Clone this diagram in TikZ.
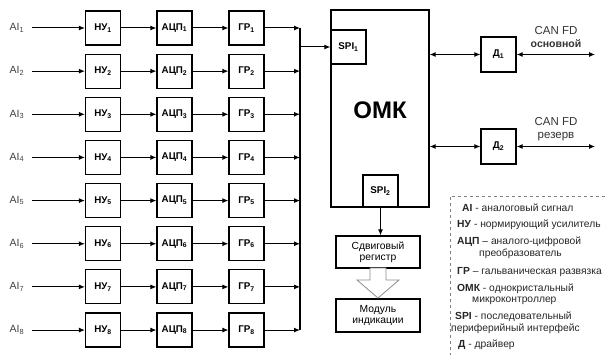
\documentclass[tikz,border=0pt]{standalone}
\usepackage{fontspec}
\setmainfont{Liberation Sans}
\usetikzlibrary{arrows.meta}
\newcommand{\lsub}[1]{\textsubscript{#1}}
\tikzset{
  blk/.style={draw, line width=1.2pt, minimum width=35pt, minimum height=34pt, inner sep=0pt, font=\bfseries\fontsize{9.8}{10}\selectfont},
  wide/.style={draw, line width=1.2pt, minimum width=84pt, minimum height=32pt, inner sep=0pt, align=center, font=\fontsize{10.3}{11.5}\selectfont},
  arr/.style={line width=1pt, -{Latex[length=6pt,width=5pt]}},
  darr/.style={line width=1pt, {Latex[length=6pt,width=5pt]}-{Latex[length=6pt,width=5pt]}},
  ailab/.style={font=\fontsize{10.5}{11}\selectfont, text=black!75},
  leg/.style={anchor=west, inner sep=0pt, font=\fontsize{10.3}{11}\selectfont, text=black!85},
  canlab/.style={font=\fontsize{11.5}{12}\selectfont, text=black!80}
}
\begin{document}
\begin{tikzpicture}[x=1pt,y=-1pt]
\useasboundingbox (0,0) rectangle (605,355);
\foreach \i in {1,...,8}{
  \pgfmathsetmacro{\yy}{28+43.15*(\i-1)}
  \node[ailab] (ai\i) at (17,\yy) {AI\lsub{\i}};
  \node[blk] (nu\i) at (103,\yy) {НУ\lsub{\i}};
  \node[blk] (adc\i) at (174.5,\yy) {АЦП\lsub{\i}};
  \node[blk] (gr\i) at (246.5,\yy) {ГР\lsub{\i}};
  \coordinate (bus\i) at (300,\yy);
  \draw[arr, shorten <=4pt] (ai\i.east) -- (nu\i.west);
  \draw[arr] (nu\i.east) -- (adc\i.west);
  \draw[arr] (adc\i.east) -- (gr\i.west);
  \draw[arr] (gr\i.east) -- (bus\i);
}
\draw[line width=1.2pt] (bus1) -- (bus8);
% OMK
\node[draw, line width=1.2pt, minimum width=98pt, minimum height=197pt, inner sep=0pt] (omk) at (380,108.5) {};
\node[font=\bfseries\fontsize{24}{26}\selectfont] (omkt) at (380,110) {ОМК};
\node[blk] (spi1) at (348.5,47) {SPI\lsub{1}};
\node[blk, minimum height=32pt] (spi2) at (380.5,191) {SPI\lsub{2}};
\coordinate (busout) at (300,47);
\draw[arr] (busout) -- (spi1.west);
% drivers
\node[blk, minimum height=35pt] (d1) at (498.5,54.5) {Д\lsub{1}};
\node[blk, minimum height=35pt] (d2) at (498.5,146.5) {Д\lsub{2}};
\coordinate (can1) at (595,54.5);
\coordinate (can2) at (595,146.5);
\draw[darr] (omk.east |- d1) -- (d1.west);
\draw[darr] (d1.east) -- (can1);
\draw[darr] (omk.east |- d2) -- (d2.west);
\draw[darr] (d2.east) -- (can2);
\node[canlab] (c1a) at (556,31) {CAN FD};
\node[canlab, font=\bfseries\fontsize{10.5}{11}\selectfont] (c1b) at (556,44) {основной};
\node[canlab] (c2a) at (556,122) {CAN FD};
\node[canlab] (c2b) at (556,137) {резерв};
% register and module
\node[wide] (reg) at (378,252) {Сдвиговый\\регистр};
\node[wide, minimum height=33pt] (mod) at (378,315.5) {Модуль\\индикации};
\draw[arr] (spi2.south) -- (spi2.south |- reg.north);
\draw[draw=black!45, fill=white, line width=0.8pt] (370,268) -- (386,268) -- (386,280) -- (399,280) -- (378,298) -- (357,280) -- (370,280) -- cycle;
% legend
\draw[dashed, draw=black!50, line width=0.6pt] (605,196) -- (450,196) -- (450,355);
\node[leg] (l1) at (462,208) {\textbf{AI} - аналоговый сигнал};
\node[leg] (l2) at (457,225) {\textbf{НУ} - нормирующий усилитель};
\node[leg] (l3) at (457,242) {\textbf{АЦП} -- аналого-цифровой};
\node[leg] (l3b) at (479,254) {преобразователь};
\node[leg] (l4) at (457,272) {\textbf{ГР} -- гальваническая развязка};
\node[leg] (l5) at (457,289) {\textbf{ОМК} - однокристальный};
\node[leg] (l5b) at (472,300.5) {микроконтроллер};
\node[leg] (l6) at (455,317) {\textbf{SPI} - последовательный};
\node[leg] (l6b) at (451,328.5) {периферийный интерфейс};
\node[leg] (l7) at (458,345) {\textbf{Д} - драйвер};
\end{tikzpicture}
\end{document}
